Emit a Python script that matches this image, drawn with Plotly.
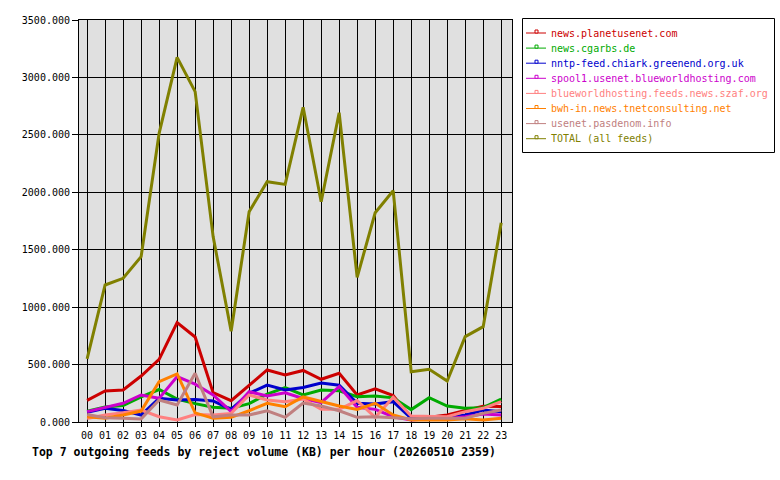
import plotly.graph_objects as go

hours = ["00", "01", "02", "03", "04", "05", "06", "07", "08", "09", "10", "11",
         "12", "13", "14", "15", "16", "17", "18", "19", "20", "21", "22", "23"]

names = [
    "news.planetusenet.com",
    "news.cgarbs.de",
    "nntp-feed.chiark.greenend.org.uk",
    "spool1.usenet.blueworldhosting.com",
    "blueworldhosting.feeds.news.szaf.org",
    "bwh-in.news.tnetconsulting.net",
    "usenet.pasdenom.info",
    "TOTAL (all feeds)",
]
colors = ["#cc0000", "#00aa00", "#0000cc", "#cc00cc", "#ff8080", "#ff8000", "#c08080", "#808000"]

planetusenet = [188, 270, 279, 400, 545, 866, 740, 255, 186, 322, 453, 409,
                449, 372, 424, 235, 288, 230, 35, 42, 62, 100, 138, 135]
cgarbs = [94, 130, 143, 218, 283, 200, 160, 128, 119, 160, 243, 300,
          235, 278, 272, 220, 226, 210, 108, 212, 139, 119, 125, 200]
chiark = [85, 119, 100, 61, 206, 192, 195, 183, 110, 250, 322, 279,
          300, 340, 320, 163, 157, 177, 32, 32, 41, 61, 104, 90]
spool1 = [90, 128, 163, 235, 206, 395, 330, 235, 90, 264, 226, 255,
          205, 168, 308, 128, 110, 46, 17, 29, 29, 46, 70, 61]
szaf = [30, 61, 81, 104, 46, 17, 65, 61, 75, 235, 192, 177,
        200, 110, 110, 186, 41, 215, 52, 46, 46, 90, 119, 177]
tnet = [46, 32, 61, 95, 351, 418, 80, 32, 41, 98, 163, 133,
        218, 177, 139, 110, 163, 61, 17, 17, 17, 29, 17, 32]
pasdenom = [65, 38, 32, 27, 192, 148, 424, 45, 61, 61, 98, 41,
            165, 139, 98, 41, 46, 38, 29, 32, 32, 32, 75, 104]
total = [550, 1193, 1251, 1439, 2513, 3175, 2876, 1614, 790, 1831, 2092, 2069,
         2740, 1918, 2693, 1260, 1822, 2014, 438, 459, 357, 743, 830, 1735]

series = [planetusenet, cgarbs, chiark, spool1, szaf, tnet, pasdenom, total]

yticks = [0, 500, 1000, 1500, 2000, 2500, 3000, 3500]
title_text = "Top 7 outgoing feeds by reject volume (KB) per hour (20260510 2359)"

MONO = "DejaVu Sans Mono"
W, H = 780, 480
L, R, T, B = 79, 268, 20, 58
PW, PH = W - L - R, H - T - B


def px(x):
    return (x - L) / PW


def py(y):
    return (H - B - y) / PH


fig = go.Figure()
for name, col, vals in zip(names, colors, series):
    fig.add_trace(go.Scatter(x=list(range(len(hours))), y=vals, mode="lines",
                             name=name, line=dict(color=col, width=3),
                             showlegend=False, hoverinfo="skip"))

shapes = []
annotations = []
# legend box
shapes.append(dict(type="rect", xref="paper", yref="paper",
                   x0=px(522.5), x1=px(774.5), y0=py(152.5), y1=py(18.5),
                   line=dict(color="black", width=1), fillcolor="white", layer="above"))
for i, (name, col) in enumerate(zip(names, colors)):
    yc = 33 + 15.1 * i
    shapes.append(dict(type="line", xref="paper", yref="paper",
                       x0=px(526), x1=px(546), y0=py(yc), y1=py(yc),
                       line=dict(color=col, width=1), layer="above"))
    shapes.append(dict(type="rect", xref="paper", yref="paper",
                       x0=px(535), x1=px(538), y0=py(yc), y1=py(yc - 3),
                       line=dict(color=col, width=1), fillcolor="white", layer="above"))
    annotations.append(dict(xref="paper", yref="paper", x=px(549), y=py(yc),
                            xanchor="left", yanchor="middle", showarrow=False,
                            text=name, font=dict(family=MONO, size=10, color=col)))

annotations.append(dict(xref="paper", yref="paper", x=px(30), y=py(452),
                        xanchor="left", yanchor="middle", showarrow=False,
                        text="<b>" + title_text + "</b>",
                        font=dict(family=MONO, size=11.5, color="black")))

fig.update_layout(
    width=W, height=H,
    margin=dict(l=L, r=R, t=T, b=B, pad=0),
    paper_bgcolor="white", plot_bgcolor="#e0e0e0",
    showlegend=False,
    shapes=shapes, annotations=annotations,
    font=dict(family=MONO, size=10, color="black"),
)
fig.update_xaxes(range=[-0.45, 23.6], tickmode="array",
                 tickvals=list(range(len(hours))), ticktext=hours,
                 showgrid=True, gridcolor="black", gridwidth=1,
                 showline=True, linecolor="black", linewidth=1, mirror=True,
                 ticks="outside", ticklen=4, tickcolor="black",
                 zeroline=False, tickfont=dict(family=MONO, size=10))
fig.update_yaxes(range=[0, 3500], tickmode="array", tickvals=yticks,
                 ticktext=[f"{v:.3f}" for v in yticks],
                 showgrid=True, gridcolor="black", gridwidth=1,
                 showline=True, linecolor="black", linewidth=1, mirror=True,
                 ticks="outside", ticklen=6, tickcolor="black",
                 zeroline=False, tickfont=dict(family=MONO, size=10))

fig.write_html("out.html")
